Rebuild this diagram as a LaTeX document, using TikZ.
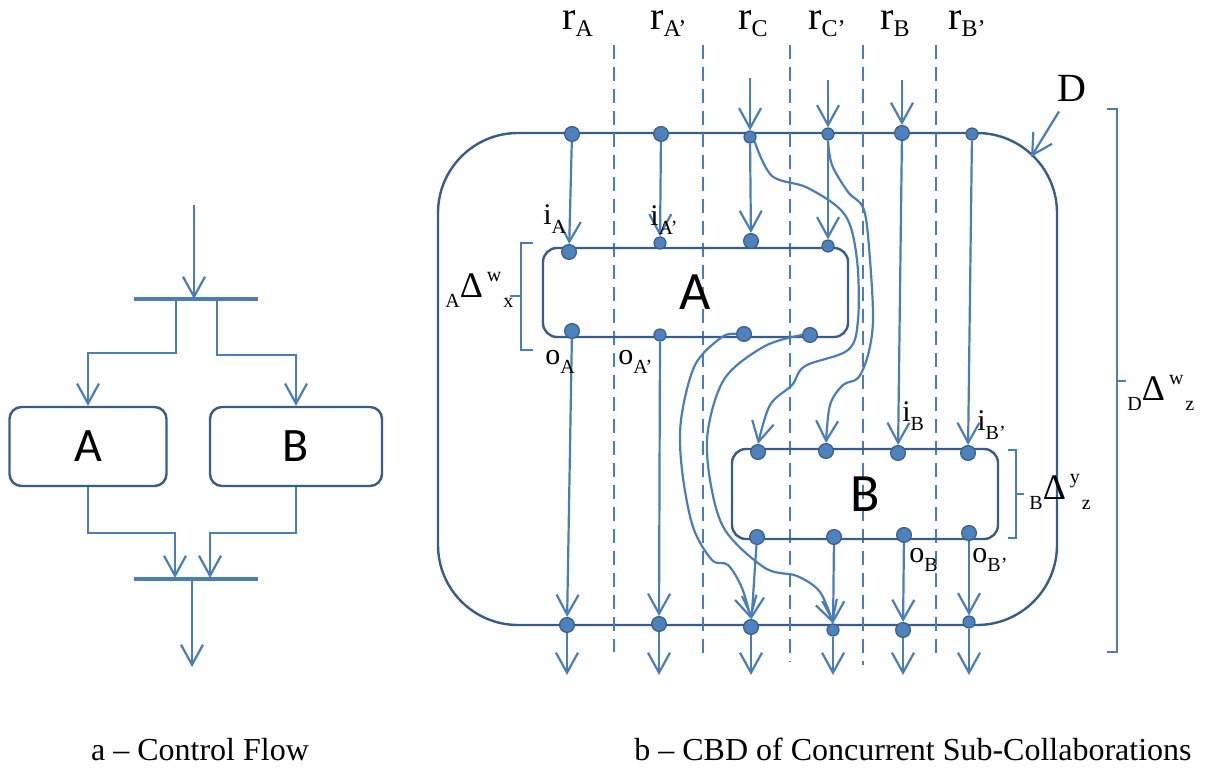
\documentclass[tikz,border=0pt]{standalone}
\usepackage{fontspec}
\setmainfont{Liberation Serif}
\newfontfamily\boxfont{Carlito}
\usetikzlibrary{arrows.meta,calc,positioning}
\definecolor{flowblue}{HTML}{4A7EBB}
\definecolor{edgeblue}{HTML}{385D8A}
\definecolor{dotblue}{HTML}{4F81BD}
\tikzset{>={Straight Barb[length=10pt,width=11pt]},
  every node/.style={inner sep=0pt},
  flow/.style={->,draw=flowblue,line width=1.1pt},
  guide/.style={draw=flowblue,line width=1pt,dash pattern=on 7pt off 4pt},
  bar/.style={draw=flowblue,line width=1.7pt},
  brace/.style={draw=flowblue,line width=1.1pt},
  box/.style={draw=edgeblue,line width=1.2pt,rounded corners=7pt},
  dot/.style={circle,fill=dotblue,draw=edgeblue,line width=.6pt,minimum size=7.4pt},
  sdot/.style={dot,minimum size=6pt}}
\newcommand{\rlab}[2]{{\fontsize{20pt}{20pt}\selectfont #1\raisebox{-3.5pt}{\fontsize{12pt}{12pt}\selectfont #2}}}
\newcommand{\iolab}[2]{{\fontsize{15pt}{15pt}\selectfont #1\raisebox{-4.5pt}{\fontsize{10pt}{10pt}\selectfont #2}}}
\newcommand{\dlab}[3]{{\fontsize{10pt}{10pt}\selectfont\raisebox{-5pt}{#1}{\fontsize{18pt}{18pt}\selectfont Δ}\hspace{2pt}\raisebox{8pt}{#2}\hspace{1pt}\raisebox{-5pt}{#3}}}

\begin{document}
\begin{tikzpicture}[x=0.5pt,y=-0.5pt]
\useasboundingbox (0,0) rectangle (1210,769);
% a -- control flow
\coordinate (src) at (194,205);\coordinate (forkM) at (194,299);\coordinate (forkA) at (176,300);\coordinate (forkB) at (217,301);
\coordinate (joinA) at (175,578);\coordinate (joinB) at (210,578);\coordinate (joinM) at (192,577);\coordinate (sink) at (192,667);
\draw[bar] (134,299) -- (258,299);
\draw[bar] (134,579) -- (258,579);
\node[box,rounded corners=6pt,minimum width=78.5pt,minimum height=39.5pt] (boxA) at (88,446.5) {\boxfont\fontsize{24pt}{24pt}\selectfont A};
\node[box,rounded corners=6pt,minimum width=86pt,minimum height=39.5pt] (boxB) at (296,446.5) {\boxfont\fontsize{24pt}{24pt}\selectfont B};
\draw[flow] (src) -- (forkM);
\draw[flow] (forkA) |- (88,353) -- (boxA.north);
\draw[flow] (forkB) |- (296,355) -- (boxB.north);
\draw[flow] (boxA.south) |- (175,533) -- (joinA);
\draw[flow] (boxB.south) |- (210,533) -- (joinB);
\draw[flow] (joinM) -- (sink);
\node[anchor=base] (capa) at (200,760) {\fontsize{16pt}{16pt}\selectfont a – Control Flow};

% b -- CBD of concurrent sub-collaborations
\node[box,rounded corners=40pt,minimum width=309.5pt,minimum height=246pt] (D) at (747.5,379) {};
\foreach \x/\yb in {614/652,703/658,790/662,863/665,936/660} {\draw[guide] (\x,45) -- (\x,\yb);}
\node[box,minimum width=152.5pt,minimum height=44.5pt] (A) at (695.5,292.5) {\boxfont\fontsize{27pt}{27pt}\selectfont A};
\node[box,minimum width=133pt,minimum height=45pt] (B) at (865,494) {\boxfont\fontsize{27pt}{27pt}\selectfont B};
\foreach \n/\x/\y in {tA/572/134,tA2/661/134,tB/902/133,iA/569/252,iC/751/241,iB0/758/452,iB1/826/451,iB/898/453,iB2/968/453,
  oA/572/331,oC/744/334,oC2/810/335,oB0/757/537,oB1/834/537,oB/904/535,oB2/969/533,bA/567/625,bA2/659/624,bC/751/627,bB/903/630}
  {\node[dot] (\n) at (\x,\y) {};}
\foreach \n/\x/\y in {tC/750/137,tC2/828/134,tB2/972/134,iA2/660/243,iC2/828/246,oA2/660/335,bC2/833/630,bB2/969/622}
  {\node[sdot] (\n) at (\x,\y) {};}
\coordinate (inC) at (750,78);\coordinate (inC2) at (828,80);\coordinate (inB) at (902,80);
\foreach \s/\t in {inC/tC,inC2/tC2,inB/tB,tA/iA,tA2/iA2,tC/iC,tC2/iC2,tB/iB,tB2/iB2,oA/bA,oA2/bA2,oB0/bC,oB1/bC2,oB/bB,oB2/bB2}
  {\draw[flow] (\s) -- (\t);}
\foreach \n/\x in {bA/567,bA2/659,bC/751,bC2/833,bB/903,bB2/969} {\coordinate (out\n) at (\x,675);\draw[flow] (\n) -- (out\n);}
% crossing flows
\draw[flow] plot[smooth,tension=.55] coordinates {(tC.south east) (772,176) (808,188) (845,215) (857,260) (858,320) (848,350) (805,366) (792,385) (770,405) (iB0.north)};
\draw[flow] plot[smooth,tension=.55] coordinates {(tC2.south) (832,165) (848,192) (864,210) (870,260) (873,320) (868,355) (858,378) (843,385) (830,405) (iB1.north)};
\draw[flow] plot[smooth,tension=.55] coordinates {(oC.west) (722,337) (695,365) (681,420) (682,470) (693,527) (712,560) (728,565) (742,588) (bC.north)};
\draw[flow] plot[smooth,tension=.55] coordinates {(oC2.west) (765,346) (725,378) (708,430) (710,480) (725,530) (765,568) (797,576) (820,592) (bC2.north)};
% brackets
\draw[brace] (533,243) -- (521,243) -- (521,350) -- (533,350);\draw[brace] (521,296) -- (510,296);
\draw[brace] (1008,450) -- (1016,450) -- (1016,538) -- (1008,538);\draw[brace] (1016,494) -- (1024,494);
\draw[brace] (1107,109) -- (1117,109) -- (1117,652) -- (1107,652);\draw[brace] (1117,381) -- (1126,381);
% labels
\foreach \n/\x/\r in {lrA/562/A,lrA2/650/A’,lrC/738/C,lrC2/808/C’,lrB/880/B,lrB2/948/B’} {\node[anchor=base west] (\n) at (\x,30) {\rlab{r}{\r}};}
\foreach \n/\x/\y/\l/\s in {liA/543/225/i/A,liA2/650/226/i/A’,loA/545/365/o/A,loA2/618/365/o/A’,liB/902/422/i/B,liB2/977/431/i/B’,loB/909/563/o/B,loB2/972/563/o/B’}
  {\node[anchor=base west] (\n) at (\x,\y) {\iolab{\l}{\s}};}
\node[anchor=base west] (wA) at (445,298) {\dlab{A}{w}{x}};
\node[anchor=base west] (wB) at (1029,500) {\dlab{B}{y}{z}};
\node[anchor=base west] (wD) at (1127,401) {\dlab{D}{w}{z}};
\node[anchor=base west] (Dlab) at (1057,102) {\fontsize{20pt}{20pt}\selectfont D};
\coordinate (Dtip) at (1031,157);
\draw[flow] ([shift={(2,9)}]Dlab.south west) -- (Dtip);
\node[anchor=base] (capb) at (913,760) {\fontsize{16pt}{16pt}\selectfont b – CBD of Concurrent Sub-Collaborations};
\end{tikzpicture}
\end{document}
